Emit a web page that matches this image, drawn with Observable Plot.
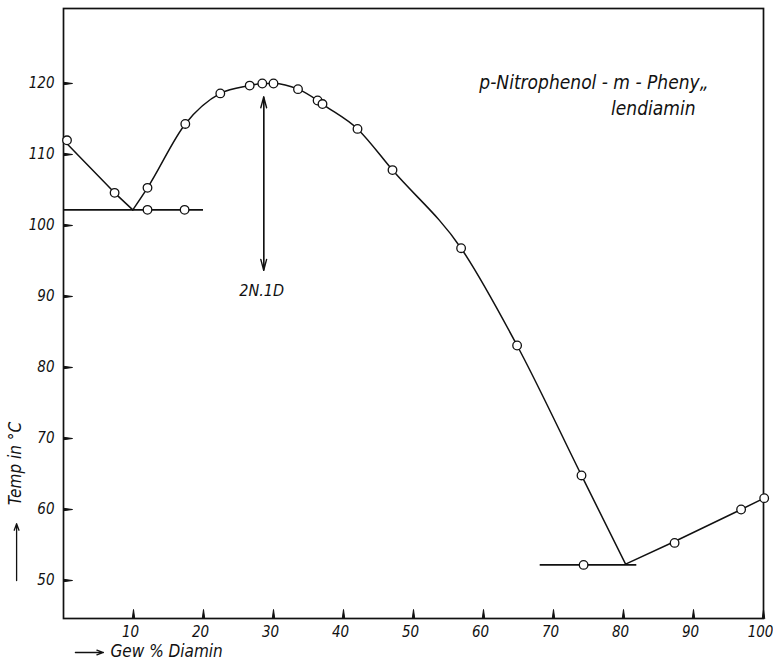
<!DOCTYPE html>
<html>
<head>
<meta charset="utf-8">
<script src="https://cdn.jsdelivr.net/npm/d3@7"></script>
<script src="https://cdn.jsdelivr.net/npm/@observablehq/plot@0.6"></script>
<style>
  html, body { margin: 0; padding: 0; background: #fff; }
  #chart svg { display: block; }
</style>
</head>
<body>
<div id="chart"></div>
<script>
// Measured points (Gew % Diamin, Temp °C)
const obsX = [0.5, 7.3, 12.0, 12.0, 17.3, 17.4, 22.4, 26.6, 28.4, 30.0, 33.5, 36.3, 37.0, 42.0, 47.0, 56.8, 64.8, 74.0, 74.3, 87.3, 96.8, 100.1];
const obsT = [112.0, 104.6, 105.3, 102.2, 102.2, 114.3, 118.6, 119.7, 120.0, 120.0, 119.2, 117.6, 117.1, 113.6, 107.8, 96.8, 83.1, 64.8, 52.2, 55.3, 60.0, 61.6];

// Liquidus branches
const leftBranchX = [0.5, 7.3, 9.9];
const leftBranchT = [111.5, 104.6, 102.2];
const compoundX = [9.9, 12.0, 17.4, 22.4, 26.6, 28.4, 30.0, 33.5, 36.3, 37.0, 42.0, 47.0, 56.8, 64.8, 74.0, 80.3];
const compoundT = [102.2, 105.3, 114.3, 118.6, 119.7, 120.0, 120.0, 119.2, 117.6, 117.1, 113.6, 107.8, 96.8, 83.1, 64.8, 52.3];
const rightBranchX = [80.3, 87.3, 96.8, 100.1];
const rightBranchT = [52.3, 55.5, 60.0, 61.6];

// Eutectic horizontals
const eutecticT = [102.2, 52.2];
const eutecticFrom = [0, 68.1];
const eutecticTo = [20, 81.9];

// Compound marker 2N.1D
const compoundLabel = "2N.1D";
const compoundAt = 28.6;
const compoundTop = 118.1;
const compoundBottom = 93.7;
const compoundLabelT = 90.85;

// Ticks
const xTicks = [10, 20, 30, 40, 50, 60, 70, 80, 90, 100];
const yTicks = [50, 60, 70, 80, 90, 100, 110, 120];

const titleLines = ["p-Nitrophenol - m - Pheny\u201E", "lendiamin"];
const xLabel = "Gew % Diamin";
const yLabel = "Temp in \u00B0C";

const FONT = "'DejaVu Sans Condensed', 'Liberation Sans Narrow', 'Roboto Condensed', 'DejaVu Sans', sans-serif";

const pts = obsX.map((x, i) => ({x, t: obsT[i]}));
const left = leftBranchX.map((x, i) => ({x, t: leftBranchT[i]}));
const mid = compoundX.map((x, i) => ({x, t: compoundT[i]}));
const right = rightBranchX.map((x, i) => ({x, t: rightBranchT[i]}));
const hor = eutecticT.map((t, i) => ({x1: eutecticFrom[i], x2: eutecticTo[i], t}));
const arrows = [
  {x: compoundAt, y1: compoundBottom, y2: compoundTop},
  {x: compoundAt, y1: compoundTop, y2: compoundBottom}
];

const ink = "#111";
const xDomain = [0, 100];
const yDomain = [44.65, 130.56];

const chart = Plot.plot({
  width: 773,
  height: 665,
  marginLeft: 63,
  marginRight: 10,
  marginTop: 8,
  marginBottom: 47,
  style: {fontFamily: FONT, fontStyle: "italic", fontSize: "15px", color: ink, background: "#fff"},
  x: {domain: xDomain},
  y: {domain: yDomain},
  marks: [
    Plot.frame({stroke: ink, strokeWidth: 1.7}),
    // inward tick marks (thin spikes from the axis into the plot)
    Plot.vector(xTicks, {x: d => d, frameAnchor: "bottom", length: 9, r: 1.2, anchor: "start", shape: "spike", stroke: ink, fill: ink, strokeWidth: 1}),
    Plot.vector(yTicks, {y: d => d, frameAnchor: "left", rotate: 90, length: 9, r: 1.2, anchor: "start", shape: "spike", stroke: ink, fill: ink, strokeWidth: 1}),
    Plot.axisX({ticks: xTicks, tickSize: 0, tickPadding: 8, dx: -3, label: null, fontSize: 15, fontStyle: "italic", lineAnchor: "top", fill: ink}),
    Plot.axisY({ticks: yTicks, tickSize: 0, tickPadding: 9, label: null, fontSize: 15, fontStyle: "italic", fill: ink}),
    Plot.ruleY(hor, {x1: "x1", x2: "x2", y: "t", stroke: ink, strokeWidth: 1.6}),
    Plot.line(left, {x: "x", y: "t", stroke: ink, strokeWidth: 1.5}),
    Plot.line(mid, {x: "x", y: "t", stroke: ink, strokeWidth: 1.5, curve: "monotone-x"}),
    Plot.line(right, {x: "x", y: "t", stroke: ink, strokeWidth: 1.5}),
    Plot.arrow(arrows, {x: "x", y1: "y1", y2: "y2", stroke: ink, strokeWidth: 1.4, headLength: 12, headAngle: 30}),
    Plot.text([compoundLabel], {x: compoundAt, y: compoundLabelT, dx: -2, text: d => d, fontSize: 16, fontStyle: "italic", fill: ink}),
    Plot.dot(pts, {x: "x", y: "t", r: 4.3, fill: "white", stroke: ink, strokeWidth: 1.3}),
    // title annotation
    Plot.text([titleLines[0]], {frameAnchor: "top-right", text: d => d, dx: -55, dy: 67, textAnchor: "end", fontSize: 19, fontStyle: "italic", fill: ink, style: {letterSpacing: "1.8px"}}),
    Plot.text([titleLines[1]], {frameAnchor: "top-right", text: d => d, dx: -68, dy: 93, textAnchor: "end", fontSize: 19, fontStyle: "italic", fill: ink, style: {letterSpacing: "1.8px"}}),
    // axis labels with arrows
    Plot.text([yLabel], {frameAnchor: "left", text: d => d, rotate: -90, dx: -48, dy: 150, textAnchor: "middle", fontSize: 17, fontStyle: "italic", fill: ink}),
    Plot.arrow([{x: -6.7, y1: 50.0, y2: 58.0}], {x: "x", y1: "y1", y2: "y2", stroke: ink, strokeWidth: 1.3, headLength: 8, headAngle: 40}),
    Plot.text([xLabel], {frameAnchor: "bottom-left", text: d => d, dx: 47, dy: 38, textAnchor: "start", fontSize: 17, fontStyle: "italic", fill: ink, style: {letterSpacing: "0.6px"}}),
    Plot.arrow([{x1: 1.7, x2: 5.7, y: 39.86}], {x1: "x1", x2: "x2", y: "y", stroke: ink, strokeWidth: 1.3, headLength: 8, headAngle: 40})
  ]
});
document.getElementById("chart").append(chart);
</script>
</body>
</html>
